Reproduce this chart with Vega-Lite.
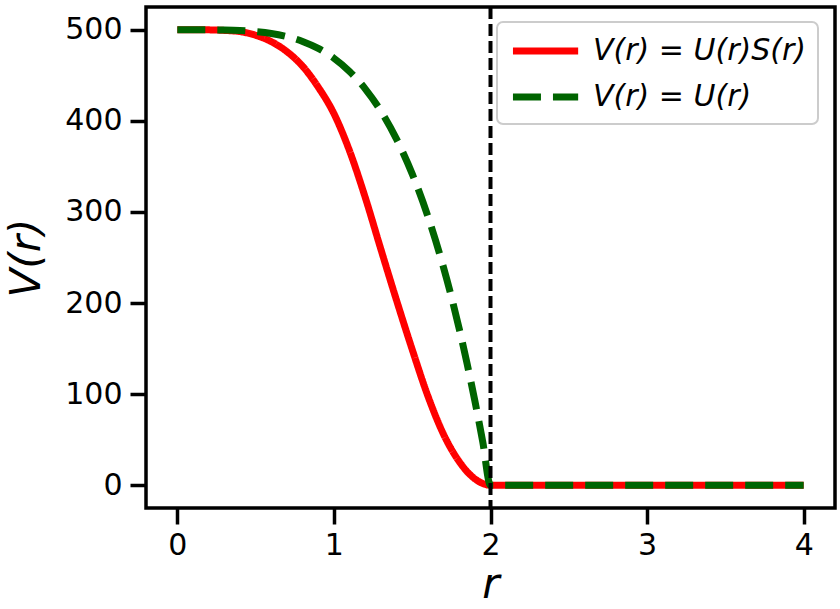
{
  "$schema": "https://vega.github.io/schema/vega-lite/v6.json",
  "width": 689,
  "height": 501,
  "autosize": {"type": "none"},
  "padding": {"left": 146, "top": 7, "right": 5, "bottom": 101},
  "background": "white",
  "config": {
    "view": {"stroke": "black", "strokeWidth": 3.5},
    "font": "DejaVu Sans",
    "axis": {
      "domain": false,
      "grid": false,
      "tickColor": "black",
      "tickWidth": 3.5,
      "tickSize": 16,
      "labelFont": "DejaVu Sans",
      "labelFontSize": 30,
      "labelColor": "black",
      "labelPadding": 6,
      "titleFont": "DejaVu Sans",
      "titleFontSize": 42,
      "titleFontStyle": "italic",
      "titleFontWeight": "normal",
      "titleColor": "black"
    }
  },
  "datasets": {
    "curves": [
      {"r": 0.0, "V": 500, "s": "V(r) = U(r)S(r)"},
      {"r": 0.1, "V": 500, "s": "V(r) = U(r)S(r)"},
      {"r": 0.2, "V": 499.9, "s": "V(r) = U(r)S(r)"},
      {"r": 0.3, "V": 499.3, "s": "V(r) = U(r)S(r)"},
      {"r": 0.4, "V": 498, "s": "V(r) = U(r)S(r)"},
      {"r": 0.5, "V": 494, "s": "V(r) = U(r)S(r)"},
      {"r": 0.6, "V": 487, "s": "V(r) = U(r)S(r)"},
      {"r": 0.7, "V": 476, "s": "V(r) = U(r)S(r)"},
      {"r": 0.8, "V": 460, "s": "V(r) = U(r)S(r)"},
      {"r": 0.9, "V": 437, "s": "V(r) = U(r)S(r)"},
      {"r": 1.0, "V": 408, "s": "V(r) = U(r)S(r)"},
      {"r": 1.1, "V": 367, "s": "V(r) = U(r)S(r)"},
      {"r": 1.2, "V": 316, "s": "V(r) = U(r)S(r)"},
      {"r": 1.3, "V": 259, "s": "V(r) = U(r)S(r)"},
      {"r": 1.4, "V": 203, "s": "V(r) = U(r)S(r)"},
      {"r": 1.5, "V": 149, "s": "V(r) = U(r)S(r)"},
      {"r": 1.6, "V": 98, "s": "V(r) = U(r)S(r)"},
      {"r": 1.7, "V": 56, "s": "V(r) = U(r)S(r)"},
      {"r": 1.8, "V": 26, "s": "V(r) = U(r)S(r)"},
      {"r": 1.9, "V": 7, "s": "V(r) = U(r)S(r)"},
      {"r": 1.95, "V": 2, "s": "V(r) = U(r)S(r)"},
      {"r": 2.0, "V": 0, "s": "V(r) = U(r)S(r)"},
      {"r": 3.0, "V": 0, "s": "V(r) = U(r)S(r)"},
      {"r": 4.0, "V": 0, "s": "V(r) = U(r)S(r)"},
      {"r": 0.0, "V": 500, "s": "V(r) = U(r)"},
      {"r": 0.1, "V": 500, "s": "V(r) = U(r)"},
      {"r": 0.2, "V": 499.95, "s": "V(r) = U(r)"},
      {"r": 0.3, "V": 499.75, "s": "V(r) = U(r)"},
      {"r": 0.4, "V": 499.2, "s": "V(r) = U(r)"},
      {"r": 0.5, "V": 498.0, "s": "V(r) = U(r)"},
      {"r": 0.6, "V": 495.95, "s": "V(r) = U(r)"},
      {"r": 0.7, "V": 492.5, "s": "V(r) = U(r)"},
      {"r": 0.8, "V": 487.2, "s": "V(r) = U(r)"},
      {"r": 0.9, "V": 479.5, "s": "V(r) = U(r)"},
      {"r": 1.0, "V": 468.75, "s": "V(r) = U(r)"},
      {"r": 1.1, "V": 454.25, "s": "V(r) = U(r)"},
      {"r": 1.2, "V": 435.2, "s": "V(r) = U(r)"},
      {"r": 1.3, "V": 410.75, "s": "V(r) = U(r)"},
      {"r": 1.4, "V": 379.95, "s": "V(r) = U(r)"},
      {"r": 1.5, "V": 341.8, "s": "V(r) = U(r)"},
      {"r": 1.6, "V": 295.2, "s": "V(r) = U(r)"},
      {"r": 1.7, "V": 239.0, "s": "V(r) = U(r)"},
      {"r": 1.75, "V": 207.0, "s": "V(r) = U(r)"},
      {"r": 1.8, "V": 171.95, "s": "V(r) = U(r)"},
      {"r": 1.85, "V": 133.9, "s": "V(r) = U(r)"},
      {"r": 1.9, "V": 92.75, "s": "V(r) = U(r)"},
      {"r": 1.95, "V": 48.2, "s": "V(r) = U(r)"},
      {"r": 2.0, "V": 0, "s": "V(r) = U(r)"},
      {"r": 3.0, "V": 0, "s": "V(r) = U(r)"},
      {"r": 4.0, "V": 0, "s": "V(r) = U(r)"}
    ],
    "cutoff": [{"rc": 2}]
  },
  "layer": [
    {
      "data": {"name": "curves"},
      "mark": {"type": "line", "strokeWidth": 7, "interpolate": "monotone", "clip": true},
      "encoding": {
        "x": {
          "field": "r", "type": "quantitative",
          "scale": {"domain": [-0.2, 4.2], "nice": false, "zero": false},
          "axis": {"values": [0, 1, 2, 3, 4], "format": "d", "title": "r", "titlePadding": 4}
        },
        "y": {
          "field": "V", "type": "quantitative",
          "scale": {"domain": [-25, 525], "nice": false, "zero": false},
          "axis": {"values": [0, 100, 200, 300, 400, 500], "format": "d", "title": "V(r)", "titlePadding": 16, "labelPadding": 8}
        },
        "color": {
          "field": "s", "type": "nominal",
          "scale": {"domain": ["V(r) = U(r)S(r)", "V(r) = U(r)"], "range": ["#ff0000", "#006400"]},
          "legend": {
            "title": null,
            "orient": "none",
            "legendX": 351,
            "legendY": 15,
            "padding": 12,
            "fillColor": "white",
            "strokeColor": "#cccccc",
            "cornerRadius": 6,
            "symbolType": "M-1,0H4",
            "symbolSize": 680,
            "symbolStrokeWidth": 7,
            "labelFont": "DejaVu Sans",
            "labelFontSize": 30,
            "labelFontStyle": "italic",
            "labelColor": "black",
            "labelOffset": 50,
            "labelLimit": 400,
            "rowPadding": 14,
            "encode": {"legend": {"update": {"strokeWidth": {"value": 2}}}}
          }
        },
        "strokeDash": {
          "field": "s", "type": "nominal",
          "scale": {"domain": ["V(r) = U(r)S(r)", "V(r) = U(r)"], "range": [[1, 0], [28, 12]]},
          "legend": null
        }
      }
    },
    {
      "data": {"name": "cutoff"},
      "mark": {"type": "rule", "color": "black", "strokeWidth": 4, "strokeDash": [12, 5]},
      "encoding": {"x": {"field": "rc", "type": "quantitative"}}
    }
  ]
}
